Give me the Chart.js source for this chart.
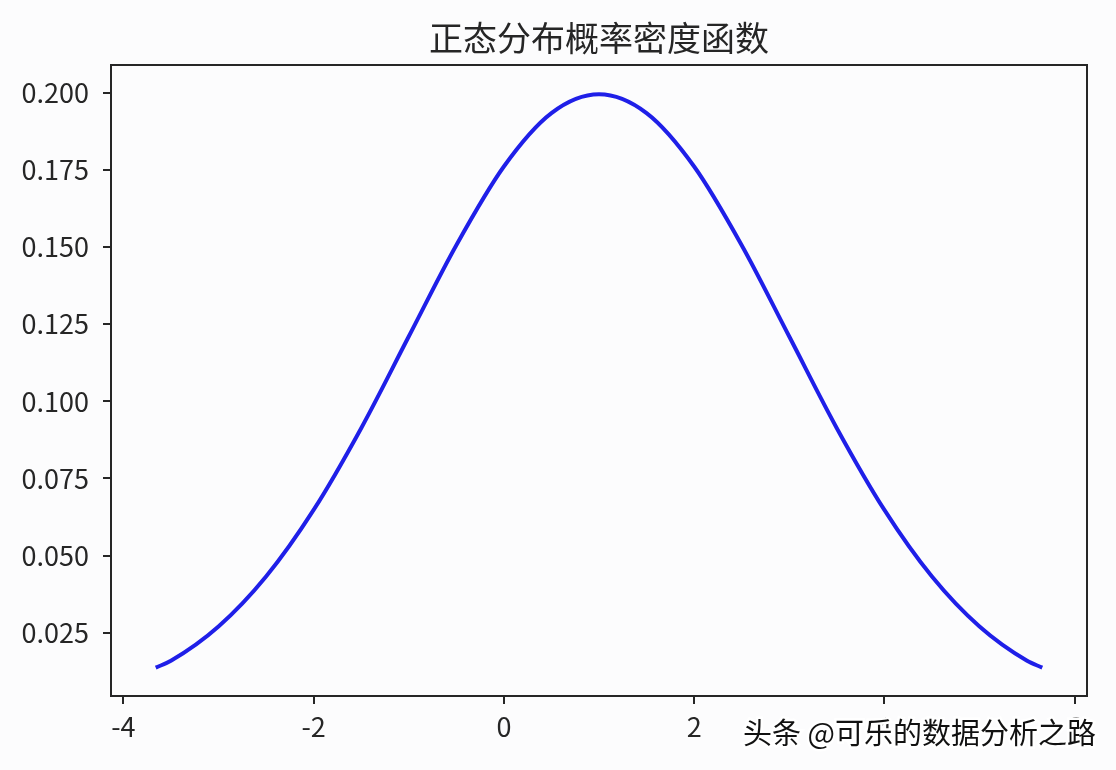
<!DOCTYPE html>
<html lang="zh-CN">
<head>
    <meta charset="UTF-8">
    <title>正态分布概率密度函数</title>
    <script src="https://cdn.jsdelivr.net/npm/chart.js"></script>
    <style>
        html, body { margin: 0; padding: 0; background: #fcfcfd; }
        #box { width: 1116px; height: 770px; }
    </style>
</head>
<body>
    <div id="box"><canvas id="pdfChart"></canvas></div>

    <script>
        // valores
        const xValues = [-3.66, -3.5, -3, -2.5, -2, -1.5, -1, -0.5, 0, 0.5, 1, 1.5, 2, 2.5, 3, 3.5, 4, 4.5, 5, 5.5, 5.66];
        const densityValues = [0.0137, 0.0159, 0.0270, 0.0432, 0.0648, 0.0913, 0.1210, 0.1506, 0.1761, 0.1934, 0.1995,
                               0.1934, 0.1761, 0.1506, 0.1210, 0.0913, 0.0648, 0.0432, 0.0270, 0.0159, 0.0137];
        const xTicks = [-4, -2, 0, 2, 4, 6];
        const yTicks = [0.025, 0.050, 0.075, 0.100, 0.125, 0.150, 0.175, 0.200];
        const chartTitle = '正态分布概率密度函数';
        const watermark = '头条 @可乐的数据分析之路';

        const inkColor = '#262626';
        const tickFont = { family: '"Noto Sans CJK SC"', size: 27 };

        // moldura completa, título centrado na área do gráfico e marca d'água
        const framePlugin = {
            id: 'frame',
            afterDraw(chart) {
                const { ctx, chartArea: a } = chart;
                ctx.save();
                ctx.strokeStyle = inkColor;
                ctx.lineWidth = 2;
                ctx.strokeRect(a.left, a.top, a.right - a.left, a.bottom - a.top);

                ctx.font = '34px "Noto Sans CJK SC"';
                ctx.fillStyle = '#262626';
                ctx.textAlign = 'center';
                ctx.textBaseline = 'middle';
                ctx.fillText(chartTitle, (a.left + a.right) / 2, 38);

                ctx.font = '29px "Noto Sans CJK SC"';
                ctx.textAlign = 'right';
                ctx.lineWidth = 5;
                ctx.strokeStyle = '#ffffff';
                ctx.strokeText(watermark, 1096, 733);
                ctx.fillStyle = '#111111';
                ctx.fillText(watermark, 1096, 733);
                ctx.restore();
            }
        };

        new Chart(document.getElementById('pdfChart'), {
            type: 'scatter',
            data: {
                datasets: [{
                    data: xValues.map((x, i) => ({ x: x, y: densityValues[i] })),
                    showLine: true,
                    borderColor: '#1f1fe8',
                    borderWidth: 4,
                    pointRadius: 0,
                    cubicInterpolationMode: 'monotone',
                    fill: false
                }]
            },
            options: {
                responsive: true,
                maintainAspectRatio: false,
                animation: false,
                layout: { padding: { left: 0, right: 29, top: 65, bottom: 14 } },
                plugins: {
                    legend: { display: false },
                    tooltip: { enabled: false },
                    title: { display: false }
                },
                scales: {
                    x: {
                        type: 'linear',
                        min: -4.13,
                        max: 6.13,
                        afterBuildTicks: s => { s.ticks = xTicks.map(v => ({ value: v })); },
                        afterFit: s => { s.height = 60; },
                        grid: { drawOnChartArea: false, drawTicks: true, tickLength: 8, color: inkColor, lineWidth: 2 },
                        border: { display: true, color: inkColor, width: 2 },
                        ticks: {
                            color: '#262626',
                            padding: 7,
                            maxRotation: 0,
                            font: tickFont
                        }
                    },
                    y: {
                        type: 'linear',
                        min: 0.0045,
                        max: 0.2090,
                        afterBuildTicks: s => { s.ticks = yTicks.map(v => ({ value: v })); },
                        afterFit: s => { s.width = 111; },
                        grid: { drawOnChartArea: false, drawTicks: true, tickLength: 8, color: inkColor, lineWidth: 2 },
                        border: { display: true, color: inkColor, width: 2 },
                        ticks: {
                            color: '#262626',
                            padding: 14,
                            font: tickFont,
                            callback: v => Number(v).toFixed(3)
                        }
                    }
                }
            },
            plugins: [framePlugin]
        });
    </script>
</body>
</html>
